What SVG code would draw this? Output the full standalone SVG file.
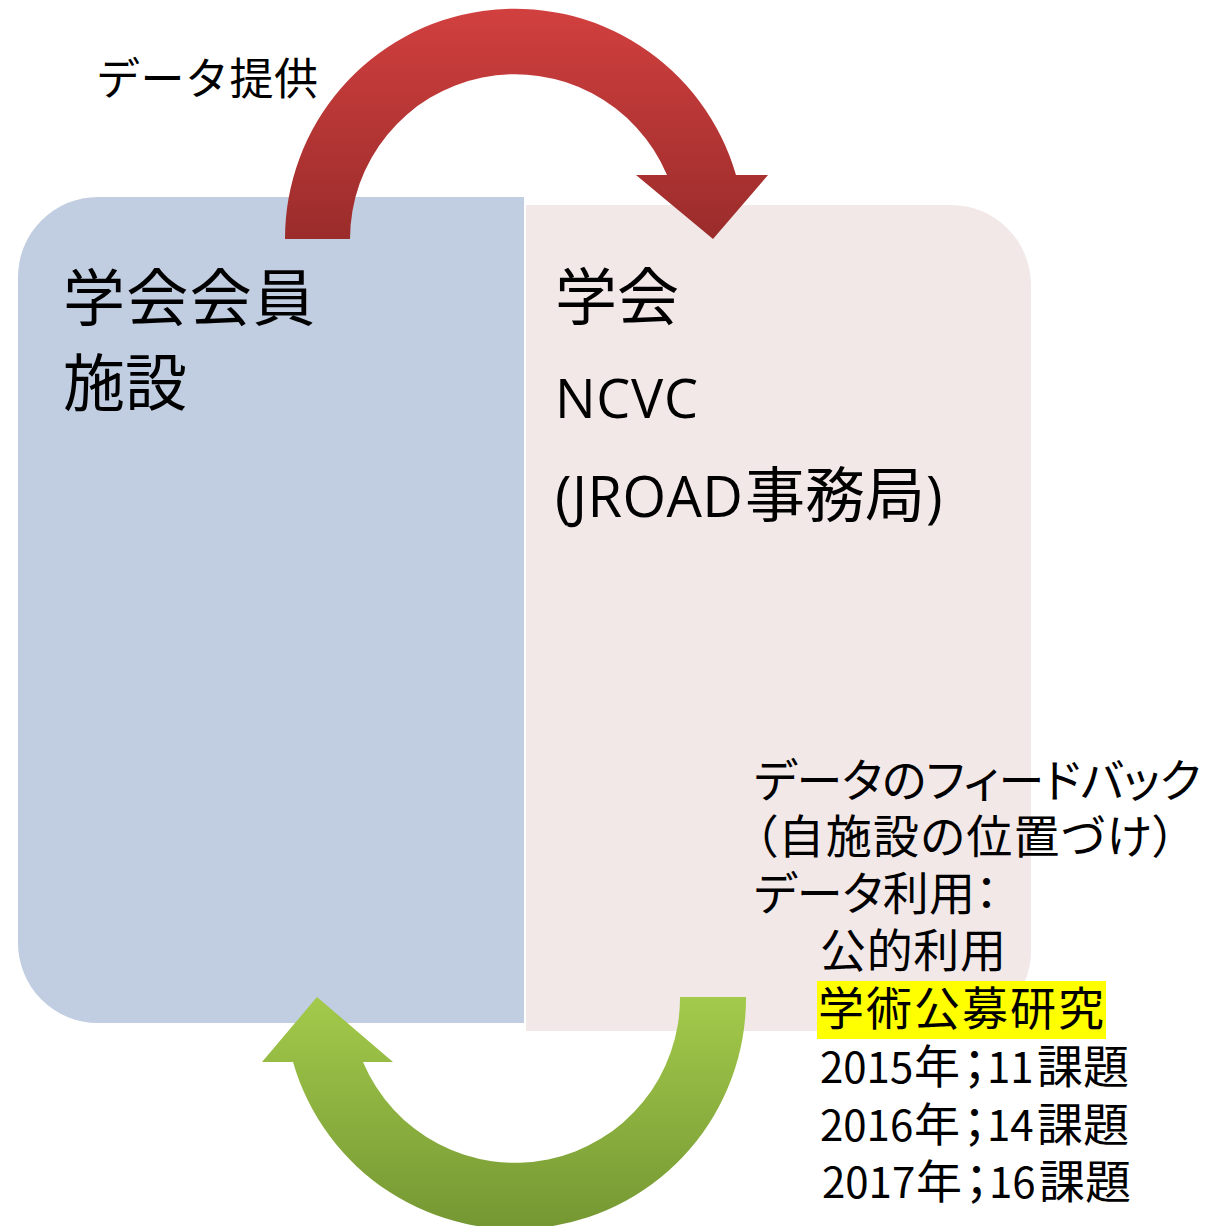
<svg xmlns="http://www.w3.org/2000/svg" width="1205" height="1226" viewBox="0 0 1205 1226">
  <defs>
    <linearGradient id="gRed" gradientUnits="userSpaceOnUse" x1="0" y1="9" x2="0" y2="239">
      <stop offset="0" stop-color="#D1403F"/>
      <stop offset="1" stop-color="#9A2C2B"/>
    </linearGradient>
    <linearGradient id="gGreen" gradientUnits="userSpaceOnUse" x1="0" y1="997" x2="0" y2="1228">
      <stop offset="0" stop-color="#A3CA4B"/>
      <stop offset="1" stop-color="#759733"/>
    </linearGradient>
    <style>
      .cjk { font-family: "Noto Sans CJK JP", "Noto Sans CJK SC", sans-serif; fill: #000; }
      .lat { font-family: "Open Sans", "Liberation Sans", sans-serif; fill: #000; }
      .big { font-size: 62px; }
      .mid { font-size: 46px; }
      .num { font-size: 42px; }
      .palt { font-feature-settings: "palt"; }
    </style>
  </defs>
  <rect width="1205" height="1226" fill="#FFFFFF"/>

  <g id="node-members">
    <path d="M98 197 H524 V1023 H98 A80 80 0 0 1 18 943 V277 A80 80 0 0 1 98 197 Z" fill="#C1CDE1"/>
    <text class="cjk big" x="63" y="321" textLength="252">学会会員</text>
    <text class="cjk big" x="63" y="406">施設</text>
  </g>

  <g id="node-society">
    <path d="M526 205 H951 A80 80 0 0 1 1031 285 V951 A80 80 0 0 1 951 1031 H526 Z" fill="#F2E8E8"/>
    <text class="cjk big" x="555" y="320">学会</text>
    <text class="lat" font-size="54" x="555" y="418" textLength="143">NCVC</text>
    <text y="517"><tspan class="lat" font-size="56" x="555" textLength="188">(JROAD</tspan><tspan class="cjk" font-size="60" x="745">事務局</tspan><tspan class="lat" font-size="56" x="926">)</tspan></text>
  </g>

  <g id="connectors">
    <path id="arrow-data-provide" d="M285 239 A230 230 0 0 1 736 175 L768 175 L713 239 L636 175 L667 175 A165 165 0 0 0 350 239 Z" fill="url(#gRed)"/>
    <path id="arrow-feedback" d="M746 997 A231 231 0 0 1 293 1062 L262 1062 L317 997 L393 1062 L363 1062 A165 165 0 0 0 680 997 Z" fill="url(#gGreen)"/>
  </g>

  <g id="label-data-provide">
    <text class="cjk" font-size="44" x="96" y="95" textLength="222">データ提供</text>
  </g>

  <g id="label-feedback">
    <rect x="817" y="981" width="289" height="58" fill="#FFFF00"/>
    <text class="cjk mid palt" x="754" y="797" textLength="447">データのフィードバック</text>
    <text class="cjk mid palt" x="754" y="853" textLength="422">（自施設の位置づけ）</text>
    <text class="cjk mid palt" x="754" y="910" textLength="244">データ利用：</text>
    <text class="cjk mid" x="820" y="967" textLength="186">公的利用</text>
    <text class="cjk mid" x="818" y="1025" textLength="286">学術公募研究</text>
    <text class="cjk mid" y="1083"><tspan class="num" x="820">2015</tspan><tspan x="914">年</tspan><tspan class="palt" x="963">；</tspan><tspan class="num" x="987">11</tspan><tspan x="1037">課題</tspan></text>
    <text class="cjk mid" y="1141"><tspan class="num" x="820">2016</tspan><tspan x="914">年</tspan><tspan class="palt" x="963">；</tspan><tspan class="num" x="987">14</tspan><tspan x="1037">課題</tspan></text>
    <text class="cjk mid" y="1198"><tspan class="num" x="822">2017</tspan><tspan x="916">年</tspan><tspan class="palt" x="965">；</tspan><tspan class="num" x="989">16</tspan><tspan x="1039">課題</tspan></text>
  </g>
</svg>
